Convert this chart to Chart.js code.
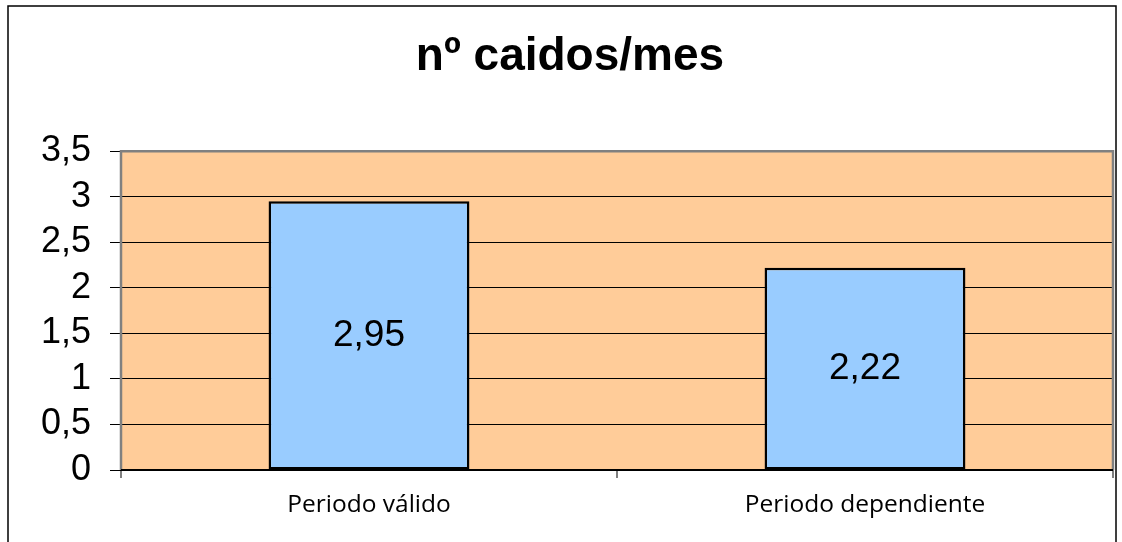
<!DOCTYPE html>
<html>
<head>
<meta charset="utf-8">
<script src="https://cdn.jsdelivr.net/npm/chart.js@4/dist/chart.umd.min.js"></script>
<style>
html,body{margin:0;padding:0;background:#fff;}
#wrap{position:relative;width:1122px;height:542px;}
canvas{display:block;}
</style>
</head>
<body>
<div id="wrap"><canvas id="c" width="1122" height="542"></canvas></div>
<script>
const titleText = 'nº caidos/mes';
const categories = ['Periodo válido', 'Periodo dependiente'];
const values = [2.95, 2.22];
const yMin = 0, yMax = 3.5, yStep = 0.5;

const fmt = v => String(v).replace('.', ',');

const bgPlugin = {
  id: 'bgPlugin',
  beforeDraw(chart) {
    const {ctx, chartArea: a} = chart;
    ctx.save();
    ctx.fillStyle = '#fff';
    ctx.fillRect(0, 0, chart.width, chart.height);
    ctx.strokeStyle = '#000';
    ctx.lineWidth = 1.5;
    ctx.strokeRect(8, 6, 1108, 560);
    ctx.fillStyle = '#FFCC99';
    ctx.fillRect(a.left, a.top, a.right - a.left, a.bottom - a.top);
    ctx.restore();
  },
  beforeDatasetsDraw(chart) {
    const {ctx, chartArea: a} = chart;
    ctx.save();
    ctx.strokeStyle = '#808080';
    ctx.lineWidth = 2.5;
    ctx.beginPath();
    ctx.moveTo(a.left, a.bottom);
    ctx.lineTo(a.left, a.top);
    ctx.lineTo(a.right, a.top);
    ctx.lineTo(a.right, a.bottom);
    ctx.stroke();
    ctx.strokeStyle = '#000';
    ctx.lineWidth = 2;
    ctx.beginPath();
    ctx.moveTo(a.left, a.bottom);
    ctx.lineTo(a.right, a.bottom);
    ctx.stroke();
    ctx.restore();
  },
  afterDatasetsDraw(chart) {
    const {ctx} = chart;
    const meta = chart.getDatasetMeta(0);
    ctx.save();
    ctx.fillStyle = '#000';
    ctx.font = '37px "Liberation Sans", Arial, sans-serif';
    ctx.textAlign = 'center';
    ctx.textBaseline = 'middle';
    meta.data.forEach((bar, i) => {
      const y = (bar.y + bar.base) / 2;
      ctx.fillText(fmt(chart.data.datasets[0].data[i]), bar.x, y);
    });
    ctx.restore();
  }
};

new Chart(document.getElementById('c'), {
  type: 'bar',
  data: {
    labels: categories,
    datasets: [{
      data: values,
      backgroundColor: '#99CCFF',
      borderColor: '#000',
      borderWidth: 2.5,
      borderSkipped: false,
      categoryPercentage: 1,
      barPercentage: 0.405
    }]
  },
  options: {
    responsive: false,
    animation: false,
    devicePixelRatio: 1,
    layout: {padding: {left: 27, right: 9, top: 0, bottom: 0}},
    plugins: {
      legend: {display: false},
      tooltip: {enabled: false},
      title: {
        display: true,
        text: titleText,
        color: '#000',
        font: {family: '"Liberation Sans", Arial, sans-serif', size: 46, weight: 'bold'},
        padding: {top: 30, bottom: 66}
      }
    },
    scales: {
      x: {
        offset: true,
        grid: {offset: true, drawOnChartArea: false, drawTicks: true, tickLength: 8, color: '#808080', lineWidth: 2},
        border: {display: false},
        ticks: {
          color: '#000',
          padding: 12,
          font: {family: '"Open Sans", sans-serif', size: 24.5}
        },
        afterFit(s) { s.height = 72; }
      },
      y: {
        min: yMin, max: yMax,
        grid: {color: '#000', lineWidth: 1, tickLength: 11, drawTicks: true},
        border: {display: false},
        ticks: {
          stepSize: yStep,
          autoSkip: false,
          color: '#000',
          padding: 19,
          font: {family: '"Liberation Sans", Arial, sans-serif', size: 36},
          callback: v => fmt(v)
        },
        afterFit(s) { s.width = 94; }
      }
    }
  },
  plugins: [bgPlugin]
});
</script>
</body>
</html>
